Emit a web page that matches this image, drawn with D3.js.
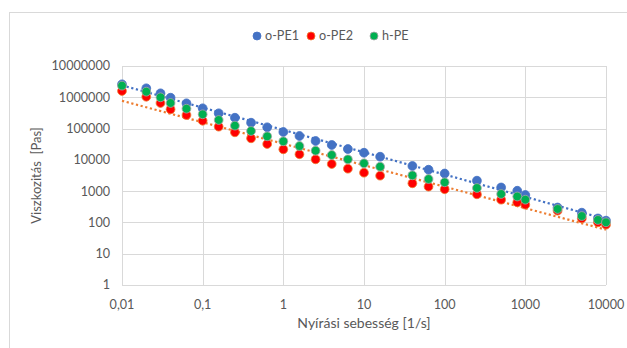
<!DOCTYPE html>
<html><head><meta charset="utf-8">
<script src="https://cdn.jsdelivr.net/npm/d3@7"></script>
<style>
body{margin:0;background:#fff;}
text{font-family:Lato,"Open Sans",sans-serif;fill:#595959;}
</style></head>
<body><svg id="c" width="627" height="348"></svg>
<script>
const shearRate = [0.01,0.02,0.03,0.04,0.063,0.1,0.158,0.251,0.398,0.631,1,1.585,2.512,3.981,6.31,10,15.85,39.81,63.1,100,251.2,501.2,794.3,1000,2512,5012,7943,10000];
const oPE1 = [2.60e6,1.94e6,1.34e6,9.7e5,6.43e5,4.45e5,3.08e5,2.22e5,1.54e5,1.10e5,7.77e4,5.79e4,4.01e4,2.99e4,2.22e4,1.69e4,1.26e4,6370,4840,3660,2160,1310,1030,753,300,205,134,114];
const oPE2 = [1.59e6,1.04e6,6.57e5,4.13e5,2.71e5,1.78e5,1.15e5,7.60e4,4.89e4,3.21e4,2.17e4,1.51e4,1.04e4,7370,5210,3880,3120,1780,1390,1150,793,533,440,369,237,134,101,85];
const hPE = [2.35e6,1.51e6,9.98e5,6.57e5,4.31e5,2.86e5,1.88e5,1.24e5,8.36e4,5.66e4,3.92e4,2.77e4,1.96e4,1.43e4,1.04e4,7760,6040,3210,2440,1920,1260,811,674,533,269,160,120,101];
const xTicks = [0.01,0.1,1,10,100,1000,10000];
const xTickLabels = ["0,01","0,1","1","10","100","1000","10000"];
const yTicks = [1,10,100,1000,10000,100000,1000000,10000000];
const seriesNames = ["o-PE1","o-PE2","h-PE"];

const series = [
  {name:seriesNames[0], values:oPE1, fill:"#4472C4", stroke:"#4472C4", trend:"#4472C4"},
  {name:seriesNames[1], values:oPE2, fill:"#FF0000", stroke:"#ED7D31", trend:"#ED7D31"},
  {name:seriesNames[2], values:hPE, fill:"#00B050", stroke:"#A5A5A5", trend:null}
];

const svg = d3.select("#c");
// chart border
svg.append("rect").attr("x",9.5).attr("y",12.5).attr("width",700).attr("height",400)
  .attr("fill","none").attr("stroke","#D9D9D9");

const x = d3.scaleLog().domain([0.01,10000]).range([122,606]);
const y = d3.scaleLog().domain([1,1e7]).range([285,66]);

// gridlines
svg.append("g").selectAll("line").data(yTicks).join("line")
  .attr("x1",122).attr("x2",606)
  .attr("y1",d=>Math.round(y(d))+0.5).attr("y2",d=>Math.round(y(d))+0.5)
  .attr("stroke","#D9D9D9");
svg.append("g").selectAll("line").data(xTicks).join("line")
  .attr("y1",66).attr("y2",285)
  .attr("x1",d=>Math.round(x(d))+0.5).attr("x2",d=>Math.round(x(d))+0.5)
  .attr("stroke","#D9D9D9");

// tick labels
svg.append("g").selectAll("text").data(yTicks).join("text")
  .attr("x",110).attr("y",d=>y(d)).attr("dy","0.35em")
  .attr("text-anchor","end").attr("font-size","12.6px")
  .text(d=>String(d));
svg.append("g").selectAll("text").data(xTicks).join("text")
  .attr("x",d=>x(d)).attr("y",305).attr("dy","0.35em")
  .attr("text-anchor","middle").attr("font-size","12.6px")
  .text((d,i)=>xTickLabels[i]);

// axis titles
svg.append("text").attr("transform","translate(41,175.5) rotate(-90)")
  .attr("text-anchor","middle").attr("font-size","13px")
  .style("white-space","pre").text("Viszkozitás  [Pas]");
svg.append("text").attr("x",364).attr("y",328)
  .attr("text-anchor","middle").attr("font-size","14px")
  .text("Nyírási sebesség [1/s]");

// trendlines (power fit in log-log space)
function powerFit(xs, ys){
  const lx = xs.map(Math.log), ly = ys.map(Math.log);
  const mx = d3.mean(lx), my = d3.mean(ly);
  let sxy=0, sxx=0;
  for(let i=0;i<lx.length;i++){ sxy+=(lx[i]-mx)*(ly[i]-my); sxx+=(lx[i]-mx)**2; }
  const b = sxy/sxx, a = my - b*mx;
  return v => Math.exp(a + b*Math.log(v));
}
const line = d3.line().x(d=>x(d[0])).y(d=>y(d[1]));
series.filter(s=>s.trend).forEach(s=>{
  const f = powerFit(shearRate, s.values);
  const dom = x.domain();
  svg.append("path").datum(dom.map(v=>[v,f(v)]))
    .attr("d",line).attr("fill","none").attr("stroke",s.trend)
    .attr("stroke-width",2.2).attr("stroke-dasharray","2.2,2.6");
});

// markers
series.forEach(s=>{
  svg.append("g").selectAll("circle").data(s.values).join("circle")
    .attr("cx",(d,i)=>x(shearRate[i])).attr("cy",d=>y(d)).attr("r",4.4)
    .attr("fill",s.fill).attr("stroke",s.stroke).attr("stroke-width",1).attr("stroke-opacity",0.8);
});

// legend
const legX = [257, 311, 374];
const lg = svg.append("g");
series.forEach((s,i)=>{
  lg.append("circle").attr("cx",legX[i]).attr("cy",36).attr("r",4)
    .attr("fill",s.fill).attr("stroke",s.stroke).attr("stroke-width",1).attr("stroke-opacity",0.8);
  lg.append("text").attr("x",legX[i]+8).attr("y",36).attr("dy","0.35em")
    .attr("font-size","12.6px").text(s.name);
});
</script></body></html>
